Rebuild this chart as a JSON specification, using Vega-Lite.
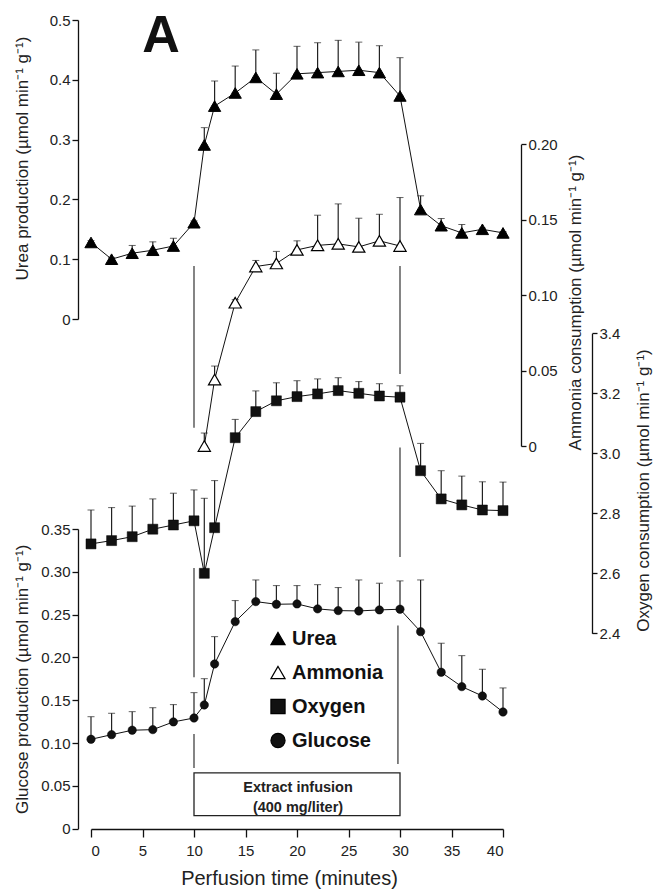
{
  "$schema": "https://vega.github.io/schema/vega-lite/v6.json",
  "width": 412,
  "height": 819,
  "autosize": {"type": "none"},
  "padding": {"left": 91, "top": 10, "right": 150, "bottom": 62},
  "background": "white",
  "config": {
    "view": {"stroke": null},
    "font": "Liberation Sans",
    "axis": {
      "grid": false,
      "domainColor": "#111",
      "tickColor": "#111",
      "labelColor": "#222",
      "titleColor": "#222",
      "labelFont": "Liberation Sans",
      "titleFont": "Liberation Sans",
      "labelFontSize": 15,
      "titleFontSize": 17,
      "titleFontWeight": "normal",
      "domainWidth": 1.3,
      "tickWidth": 1.3,
      "tickSize": 6,
      "labelPadding": 2
    },
    "legend": {
      "orient": "none", "legendX": 177, "legendY": 618.5, "title": null,
      "labelFontSize": 20, "labelFontWeight": "bold", "labelFont": "Liberation Sans", "labelColor": "#111",
      "symbolSize": 200, "symbolStrokeWidth": 1.2, "rowPadding": 14, "labelOffset": 4, "padding": 0
    }
  },
  "datasets": {
    "pts": [
      {"series": "Urea", "t": 0, "v": 0.128, "top": 0.131},
      {"series": "Urea", "t": 2, "v": 0.100, "top": 0.103},
      {"series": "Urea", "t": 4, "v": 0.110, "top": 0.123},
      {"series": "Urea", "t": 6, "v": 0.115, "top": 0.129},
      {"series": "Urea", "t": 8, "v": 0.122, "top": 0.135},
      {"series": "Urea", "t": 10, "v": 0.161, "top": 0.164},
      {"series": "Urea", "t": 11, "v": 0.291, "top": 0.320},
      {"series": "Urea", "t": 12, "v": 0.356, "top": 0.398},
      {"series": "Urea", "t": 14, "v": 0.378, "top": 0.423},
      {"series": "Urea", "t": 16, "v": 0.404, "top": 0.450},
      {"series": "Urea", "t": 18, "v": 0.376, "top": 0.411},
      {"series": "Urea", "t": 20, "v": 0.410, "top": 0.456},
      {"series": "Urea", "t": 22, "v": 0.412, "top": 0.462},
      {"series": "Urea", "t": 24, "v": 0.414, "top": 0.466},
      {"series": "Urea", "t": 26, "v": 0.416, "top": 0.463},
      {"series": "Urea", "t": 28, "v": 0.412, "top": 0.457},
      {"series": "Urea", "t": 30, "v": 0.373, "top": 0.437},
      {"series": "Urea", "t": 32, "v": 0.183, "top": 0.206},
      {"series": "Urea", "t": 34, "v": 0.156, "top": 0.168},
      {"series": "Urea", "t": 36, "v": 0.144, "top": 0.158},
      {"series": "Urea", "t": 38, "v": 0.150, "top": 0.152},
      {"series": "Urea", "t": 40, "v": 0.144, "top": 0.146},
      {"series": "Ammonia", "t": 11, "v": 0.000, "top": 0.0086},
      {"series": "Ammonia", "t": 12, "v": 0.044, "top": 0.053},
      {"series": "Ammonia", "t": 14, "v": 0.095, "top": 0.097},
      {"series": "Ammonia", "t": 16, "v": 0.119, "top": 0.123},
      {"series": "Ammonia", "t": 18, "v": 0.121, "top": 0.129},
      {"series": "Ammonia", "t": 20, "v": 0.130, "top": 0.136},
      {"series": "Ammonia", "t": 22, "v": 0.133, "top": 0.153},
      {"series": "Ammonia", "t": 24, "v": 0.134, "top": 0.1605},
      {"series": "Ammonia", "t": 26, "v": 0.132, "top": 0.151},
      {"series": "Ammonia", "t": 28, "v": 0.136, "top": 0.1536},
      {"series": "Ammonia", "t": 30, "v": 0.1326, "top": 0.1647},
      {"series": "Oxygen", "t": 0, "v": 2.698, "top": 2.811},
      {"series": "Oxygen", "t": 2, "v": 2.709, "top": 2.819},
      {"series": "Oxygen", "t": 4, "v": 2.722, "top": 2.824},
      {"series": "Oxygen", "t": 6, "v": 2.747, "top": 2.848},
      {"series": "Oxygen", "t": 8, "v": 2.761, "top": 2.867},
      {"series": "Oxygen", "t": 10, "v": 2.775, "top": 2.878},
      {"series": "Oxygen", "t": 11, "v": 2.600, "top": 2.850},
      {"series": "Oxygen", "t": 12, "v": 2.752, "top": 2.909},
      {"series": "Oxygen", "t": 14, "v": 3.052, "top": 3.113},
      {"series": "Oxygen", "t": 16, "v": 3.139, "top": 3.208},
      {"series": "Oxygen", "t": 18, "v": 3.175, "top": 3.235},
      {"series": "Oxygen", "t": 20, "v": 3.189, "top": 3.242},
      {"series": "Oxygen", "t": 22, "v": 3.198, "top": 3.248},
      {"series": "Oxygen", "t": 24, "v": 3.209, "top": 3.252},
      {"series": "Oxygen", "t": 26, "v": 3.200, "top": 3.239},
      {"series": "Oxygen", "t": 28, "v": 3.191, "top": 3.232},
      {"series": "Oxygen", "t": 30, "v": 3.187, "top": 3.225},
      {"series": "Oxygen", "t": 32, "v": 2.942, "top": 3.033},
      {"series": "Oxygen", "t": 34, "v": 2.848, "top": 2.942},
      {"series": "Oxygen", "t": 36, "v": 2.828, "top": 2.924},
      {"series": "Oxygen", "t": 38, "v": 2.811, "top": 2.905},
      {"series": "Oxygen", "t": 40, "v": 2.809, "top": 2.904},
      {"series": "Glucose", "t": 0, "v": 0.1044, "top": 0.1308},
      {"series": "Glucose", "t": 2, "v": 0.1098, "top": 0.1348},
      {"series": "Glucose", "t": 4, "v": 0.1150, "top": 0.1367},
      {"series": "Glucose", "t": 6, "v": 0.1157, "top": 0.1413},
      {"series": "Glucose", "t": 8, "v": 0.1247, "top": 0.1449},
      {"series": "Glucose", "t": 10, "v": 0.1293, "top": 0.1589},
      {"series": "Glucose", "t": 11, "v": 0.1445, "top": 0.1752},
      {"series": "Glucose", "t": 12, "v": 0.1924, "top": 0.2243},
      {"series": "Glucose", "t": 14, "v": 0.2418, "top": 0.2664},
      {"series": "Glucose", "t": 16, "v": 0.2652, "top": 0.2905},
      {"series": "Glucose", "t": 18, "v": 0.2621, "top": 0.2839},
      {"series": "Glucose", "t": 20, "v": 0.2625, "top": 0.2839},
      {"series": "Glucose", "t": 22, "v": 0.2567, "top": 0.2850},
      {"series": "Glucose", "t": 24, "v": 0.2547, "top": 0.2816},
      {"series": "Glucose", "t": 26, "v": 0.2543, "top": 0.2905},
      {"series": "Glucose", "t": 28, "v": 0.2555, "top": 0.2867},
      {"series": "Glucose", "t": 30, "v": 0.2563, "top": 0.2894},
      {"series": "Glucose", "t": 32, "v": 0.2301, "top": 0.2905},
      {"series": "Glucose", "t": 34, "v": 0.1827, "top": 0.2166},
      {"series": "Glucose", "t": 36, "v": 0.1659, "top": 0.2021},
      {"series": "Glucose", "t": 38, "v": 0.1550, "top": 0.1862},
      {"series": "Glucose", "t": 40, "v": 0.1363, "top": 0.1644}
    ],
    "vl": [
      {"series": "Ammonia", "t": 10, "lo": 0.0121, "hi": 0.1194},
      {"series": "Ammonia", "t": 30, "lo": 0.0477, "hi": 0.1194},
      {"series": "Oxygen", "t": 30, "lo": 2.654, "hi": 3.019},
      {"series": "Glucose", "t": 10, "lo": 0.1768, "hi": 0.3045},
      {"series": "Glucose", "t": 10, "lo": 0.0709, "hi": 0.1107},
      {"series": "Glucose", "t": 29.8, "lo": 0.0756, "hi": 0.2374}
    ],
    "box": [{"t": 10, "t2": 30, "lo": 0.0152, "hi": 0.0653}],
    "notes": [
      {"t": 20.1, "v": 0.0472, "label": "Extract infusion"},
      {"t": 20.1, "v": 0.0238, "label": "(400 mg/liter)"}
    ],
    "panel": [{"t": 6.8, "v": 0.4465, "label": "A"}]
  },
  "resolve": {"scale": {"y": "independent"}, "axis": {"y": "independent"}},
  "layer": [
    {
      "data": {"name": "pts"},
      "transform": [{"filter": "datum.series === 'Urea'"}],
      "layer": [
        {
          "mark": {"type": "line", "color": "#111", "strokeWidth": 1},
          "encoding": {
            "x": {"field": "t", "type": "quantitative", "scale": {"domain": [0, 40], "nice": false},
              "axis": {"title": "Perfusion time (minutes)", "values": [0, 5, 10, 15, 20, 25, 30, 35, 40], "format": "d", "labelFontSize": 15, "titleFontSize": 20, "tickSize": 8, "labelPadding": 6, "titlePadding": 10, "titleX": 198}},
            "y": {"field": "v", "type": "quantitative", "scale": {"domain": [0, 0.5], "range": [309, 10], "nice": false},
              "axis": {"orient": "left", "offset": 13, "title": "Urea production (µmol min⁻¹ g⁻¹)", "values": [0, 0.1, 0.2, 0.3, 0.4, 0.5], "labelExpr": "datum.value == 0 ? '0' : format(datum.value, '.1f')", "titleX": -56, "titleY": 148, "titleBaseline": "middle", "titleAngle": 270}}
          }
        },
        {
          "mark": {"type": "errorbar", "ticks": {"size": 7, "color": "#222", "strokeWidth": 1.2}, "rule": {"color": "#222", "strokeWidth": 1.2}},
          "encoding": {
            "x": {"field": "t", "type": "quantitative", "title": "Perfusion time (minutes)"},
            "y": {"field": "v", "type": "quantitative", "title": "Urea production (µmol min⁻¹ g⁻¹)"},
            "y2": {"field": "top"}
          }
        },
        {
          "mark": {"type": "point", "filled": true, "size": 150, "strokeWidth": 1, "opacity": 1},
          "encoding": {
            "x": {"field": "t", "type": "quantitative"},
            "y": {"field": "v", "type": "quantitative"},
            "shape": {"field": "series", "type": "nominal", "scale": {"domain": ["Urea", "Ammonia", "Oxygen", "Glucose"], "range": ["triangle-up", "triangle-up", "square", "circle"]}},
            "fill": {"field": "series", "type": "nominal", "scale": {"domain": ["Urea", "Ammonia", "Oxygen", "Glucose"], "range": ["#000", "#fff", "#111", "#111"]}},
            "stroke": {"field": "series", "type": "nominal", "scale": {"domain": ["Urea", "Ammonia", "Oxygen", "Glucose"], "range": ["#000", "#000", "#000", "#000"]}}
          }
        },
        {
          "data": {"name": "panel"},
          "mark": {"type": "text", "fontSize": 52, "fontWeight": "bold", "font": "Liberation Sans", "align": "center", "baseline": "alphabetic", "color": "#111"},
          "encoding": {
            "x": {"field": "t", "type": "quantitative"},
            "y": {"field": "v", "type": "quantitative"},
            "text": {"field": "label"}
          }
        }
      ]
    },
    {
      "data": {"name": "pts"},
      "transform": [{"filter": "datum.series === 'Ammonia'"}],
      "layer": [
        {
          "data": {"name": "vl"},
          "transform": [{"filter": "datum.series === 'Ammonia'"}],
          "mark": {"type": "rule", "color": "#333", "strokeWidth": 1.2},
          "encoding": {
            "x": {"field": "t", "type": "quantitative"},
            "y": {"field": "lo", "type": "quantitative", "scale": {"domain": [0, 0.2], "range": [436, 134.3], "nice": false},
              "axis": {"orient": "right", "offset": 18, "title": "Ammonia consumption (µmol min⁻¹ g⁻¹)", "values": [0, 0.05, 0.1, 0.15, 0.2], "labelExpr": "datum.value == 0 ? '0' : format(datum.value, '.2f')", "titleX": 54, "titleY": 292, "titleBaseline": "middle", "titleAngle": 270, "tickSize": 5}},
            "y2": {"field": "hi"}
          }
        },
        {
          "mark": {"type": "errorbar", "ticks": {"size": 7, "color": "#222", "strokeWidth": 1.2}, "rule": {"color": "#222", "strokeWidth": 1.2}},
          "encoding": {
            "x": {"field": "t", "type": "quantitative", "title": "Perfusion time (minutes)"},
            "y": {"field": "v", "type": "quantitative", "title": "Ammonia consumption (µmol min⁻¹ g⁻¹)"},
            "y2": {"field": "top"}
          }
        },
        {
          "mark": {"type": "line", "color": "#111", "strokeWidth": 1},
          "encoding": {
            "x": {"field": "t", "type": "quantitative"},
            "y": {"field": "v", "type": "quantitative"}
          }
        },
        {
          "mark": {"type": "point", "filled": true, "size": 150, "strokeWidth": 1.2, "opacity": 1},
          "encoding": {
            "x": {"field": "t", "type": "quantitative"},
            "y": {"field": "v", "type": "quantitative"},
            "shape": {"field": "series", "type": "nominal"},
            "fill": {"field": "series", "type": "nominal"},
            "stroke": {"field": "series", "type": "nominal"}
          }
        }
      ]
    },
    {
      "data": {"name": "pts"},
      "transform": [{"filter": "datum.series === 'Oxygen'"}],
      "layer": [
        {
          "data": {"name": "vl"},
          "transform": [{"filter": "datum.series === 'Oxygen'"}],
          "mark": {"type": "rule", "color": "#333", "strokeWidth": 1.2},
          "encoding": {
            "x": {"field": "t", "type": "quantitative"},
            "y": {"field": "lo", "type": "quantitative", "scale": {"domain": [2.4, 3.4], "range": [623.3, 323.3], "nice": false, "zero": false},
              "axis": {"orient": "right", "offset": 89, "title": "Oxygen consumption (µmol min⁻¹ g⁻¹)", "values": [2.4, 2.6, 2.8, 3.0, 3.2, 3.4], "format": ".1f", "titleX": 51, "titleY": 480, "titleBaseline": "middle", "titleAngle": 270, "tickSize": 5}},
            "y2": {"field": "hi"}
          }
        },
        {
          "mark": {"type": "errorbar", "ticks": {"size": 7, "color": "#222", "strokeWidth": 1.2}, "rule": {"color": "#222", "strokeWidth": 1.2}},
          "encoding": {
            "x": {"field": "t", "type": "quantitative", "title": "Perfusion time (minutes)"},
            "y": {"field": "v", "type": "quantitative", "title": "Oxygen consumption (µmol min⁻¹ g⁻¹)"},
            "y2": {"field": "top"}
          }
        },
        {
          "mark": {"type": "line", "color": "#111", "strokeWidth": 1},
          "encoding": {
            "x": {"field": "t", "type": "quantitative"},
            "y": {"field": "v", "type": "quantitative"}
          }
        },
        {
          "mark": {"type": "point", "filled": true, "size": 100, "strokeWidth": 0.5, "opacity": 1},
          "encoding": {
            "x": {"field": "t", "type": "quantitative"},
            "y": {"field": "v", "type": "quantitative"},
            "shape": {"field": "series", "type": "nominal"},
            "fill": {"field": "series", "type": "nominal"},
            "stroke": {"field": "series", "type": "nominal"}
          }
        }
      ]
    },
    {
      "data": {"name": "pts"},
      "transform": [{"filter": "datum.series === 'Glucose'"}],
      "layer": [
        {
          "data": {"name": "vl"},
          "transform": [{"filter": "datum.series === 'Glucose'"}],
          "mark": {"type": "rule", "color": "#333", "strokeWidth": 1.2},
          "encoding": {
            "x": {"field": "t", "type": "quantitative"},
            "y": {"field": "lo", "type": "quantitative", "scale": {"domain": [0, 0.35], "range": [818.7, 519], "nice": false},
              "axis": {"orient": "left", "offset": 13, "title": "Glucose production (µmol min⁻¹ g⁻¹)", "values": [0, 0.05, 0.1, 0.15, 0.2, 0.25, 0.3, 0.35], "labelExpr": "datum.value == 0 ? '0' : format(datum.value, '.2f')", "titleX": -56, "titleBaseline": "middle", "titleAngle": 270}},
            "y2": {"field": "hi"}
          }
        },
        {
          "data": {"name": "box"},
          "mark": {"type": "rect", "fill": "#fff", "stroke": "#222", "strokeWidth": 1.3},
          "encoding": {
            "x": {"field": "t", "type": "quantitative"},
            "x2": {"field": "t2"},
            "y": {"field": "lo", "type": "quantitative"},
            "y2": {"field": "hi"}
          }
        },
        {
          "data": {"name": "notes"},
          "mark": {"type": "text", "fontSize": 14.5, "fontWeight": "bold", "font": "Liberation Sans", "align": "center", "baseline": "middle", "color": "#222"},
          "encoding": {
            "x": {"field": "t", "type": "quantitative"},
            "y": {"field": "v", "type": "quantitative"},
            "text": {"field": "label"}
          }
        },
        {
          "mark": {"type": "errorbar", "ticks": {"size": 7, "color": "#222", "strokeWidth": 1.2}, "rule": {"color": "#222", "strokeWidth": 1.2}},
          "encoding": {
            "x": {"field": "t", "type": "quantitative", "title": "Perfusion time (minutes)"},
            "y": {"field": "v", "type": "quantitative", "title": "Glucose production (µmol min⁻¹ g⁻¹)"},
            "y2": {"field": "top"}
          }
        },
        {
          "mark": {"type": "line", "color": "#111", "strokeWidth": 1},
          "encoding": {
            "x": {"field": "t", "type": "quantitative"},
            "y": {"field": "v", "type": "quantitative"}
          }
        },
        {
          "mark": {"type": "point", "filled": true, "size": 70, "strokeWidth": 0.5, "opacity": 1},
          "encoding": {
            "x": {"field": "t", "type": "quantitative"},
            "y": {"field": "v", "type": "quantitative"},
            "shape": {"field": "series", "type": "nominal"},
            "fill": {"field": "series", "type": "nominal"},
            "stroke": {"field": "series", "type": "nominal"}
          }
        }
      ]
    }
  ]
}
